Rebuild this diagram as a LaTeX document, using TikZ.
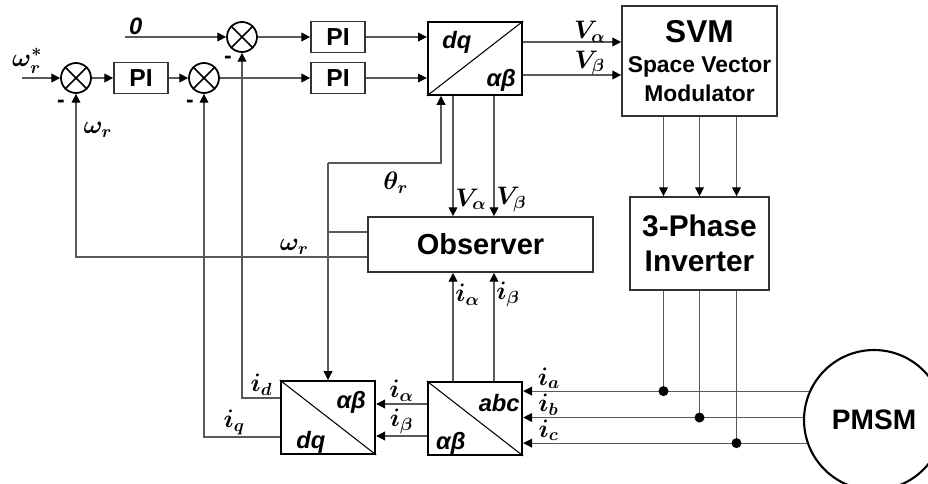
\documentclass[tikz,border=0pt]{standalone}
\usepackage{fontspec,amsmath}
\setmainfont{Liberation Sans}
\usetikzlibrary{arrows.meta,calc,positioning}

\begin{document}
\begin{tikzpicture}[x=.02cm,y=-.02cm,>={Triangle[length=5pt,width=5pt,color=black]},
 blk/.style={draw=black!80,line width=1pt,inner sep=0pt,font=\bfseries},
 pibox/.style={blk,minimum width=1.08cm,minimum height=.62cm,font=\bfseries\fontsize{14}{16}\selectfont},
 conv/.style={draw,line width=1.4pt,minimum width=1.88cm,minimum height=1.45cm,inner sep=0pt},
 sumnode/.style={draw,circle,line width=1pt,minimum size=.6cm,inner sep=0pt},
 sig/.style={font=\boldmath\fontsize{14.5}{16}\selectfont,inner sep=1pt},
 cvt/.style={font=\bfseries\itshape\fontsize{13.5}{15}\selectfont,inner sep=0pt},
 sgn/.style={font=\bfseries\fontsize{13}{15}\selectfont,inner sep=0pt},
 wire/.style={draw=black!65,line width=.6pt},
 dot/.style={circle,fill,inner sep=0pt,minimum size=.2cm}]
\useasboundingbox (0,0) rectangle (928,483);

% speed and current loops
\coordinate (wref) at (22,78);
\coordinate (zref) at (125,37);
\node[sumnode] (sw) at (76,78) {};
\node[pibox] (piw) at (141,78) {PI};
\node[sumnode] (sq) at (204,78) {};
\node[sumnode] (sd) at (242,37) {};
\node[pibox] (pid) at (338,37) {PI};
\node[pibox] (piq) at (338,78) {PI};
\foreach \s in {sw,sq,sd}{
 \draw[line width=1pt] (\s.north west)--(\s.south east) (\s.north east)--(\s.south west);
}
\node[sgn] (mw) at (61,104) {-};
\node[sgn] (mq) at (190,104) {-};
\node[sgn] (md) at (228,60) {-};

% blocks
\node[conv] (ipark) at (475,58.5) {};
\node[blk,minimum width=3.1cm,minimum height=2.2cm,align=center] (svm) at (699.5,61)
 {{\fontsize{18}{20}\selectfont SVM}\\[5pt]{\fontsize{13}{15}\selectfont Space Vector}\\[3pt]{\fontsize{13}{15}\selectfont Modulator}};
\node[blk,minimum width=2.78cm,minimum height=1.86cm,align=center,font=\bfseries\fontsize{17}{20}\selectfont] (inv) at (699.5,243.5) {3-Phase\\Inverter};
\node[blk,minimum width=4.5cm,minimum height=1.1cm,font=\bfseries\fontsize{16.5}{19}\selectfont] (obs) at (480.5,244.5) {Observer};
\node[conv] (park) at (328,417.5) {};
\node[conv] (clarke) at (475,418.5) {};
\node[draw,circle,line width=1.2pt,minimum size=2.8cm,font=\bfseries\fontsize{16}{18}\selectfont] (pmsm) at (874,420) {PMSM};

% box contents
\draw[line width=.6pt] (ipark.south west)--(ipark.north east);
\foreach \b in {park,clarke}{\draw[line width=.6pt] (\b.north west)--(\b.south east);}
\node[cvt] (t1) at ($(ipark.north west)+(30,21)$) {dq};
\node[cvt] (t2) at ($(ipark.south east)+(-22,-16)$) {αβ};
\node[cvt] (t3) at ($(park.north east)+(-25,22)$) {αβ};
\node[cvt] (t4) at ($(park.south west)+(31,-13)$) {dq};
\node[cvt] (t5) at ($(clarke.north east)+(-24,22)$) {abc};
\node[cvt] (t6) at ($(clarke.south west)+(24,-13)$) {αβ};

% forward path
\draw[wire,->] (wref) node[sig,above=1pt,xshift=3pt] {$\omega_r^*$} -- (sw);
\draw[wire,->] (sw) -- (piw);
\draw[wire,->] (piw) -- (sq);
\draw[wire,->] (sq) -- (piq);
\draw[wire,->] (zref) node[cvt,above right=1pt and 2pt] {0} -- (sd);
\draw[wire,->] (sd) -- (pid);
\draw[wire,->] (pid) -- (pid -| ipark.west);
\draw[wire,->] (piq) -- (piq -| ipark.west);
\coordinate (rowa) at (0,42);
\coordinate (rowb) at (0,75);
\draw[wire,->] (ipark.east |- rowa) -- (svm.west |- rowa) node[sig,pos=.68,above=-1.5pt] {$V_\alpha$};
\draw[wire,->] (ipark.east |- rowb) -- (svm.west |- rowb) node[sig,pos=.68,above=-1.5pt] {$V_\beta$};

% observer signals
\coordinate (xva) at (453,0);
\coordinate (xvb) at (494,0);
\draw[wire,->] (ipark.south -| xva) -- (obs.north -| xva) node[sig,pos=.86,right] {$V_\alpha$};
\draw[wire,->] (ipark.south -| xvb) -- (obs.north -| xvb) node[sig,pos=.86,right] {$V_\beta$};
\draw[wire,->] (clarke.north -| xva) -- (obs.south -| xva) node[sig,pos=.8,right] {$i_\alpha$};
\draw[wire,->] (clarke.north -| xvb) -- (obs.south -| xvb) node[sig,pos=.8,right] {$i_\beta$};

% rotor angle
\coordinate (thj) at (328,163);
\coordinate (thx) at (441,0);
\coordinate (tho) at ([yshift=.25cm]obs.west);
\draw[wire] (tho) -- (tho -| thj);
\draw[wire,->] (thj) -| (ipark.south -| thx) node[sig,pos=.3,below=4pt] {$\theta_r$};
\draw[wire,->] (thj) -- (park.north);

% speed feedback
\draw[wire,->] ([yshift=-.25cm]obs.west) -| (sw.south)
 node[sig,pos=.125,above] {$\omega_r$} node[sig,pos=.89,right=3pt] {$\omega_r$};

% current feedback
\draw[wire,->] ([yshift=.39cm]park.west) -| (sd.south) node[sig,pos=.24,above] {$i_d$};
\draw[wire,->] ([yshift=-.39cm]park.west) -| (sq.south) node[sig,pos=.3,above] {$i_q$};
\coordinate (ial) at ([yshift=.29cm]clarke.west);
\coordinate (ibe) at ([yshift=-.35cm]clarke.west);
\draw[wire,->] (ial) -- (ial -| park.east) node[sig,pos=.5,above] {$i_\alpha$};
\draw[wire,->] (ibe) -- (ibe -| park.east) node[sig,pos=.5,above] {$i_\beta$};

% phases
\foreach \dx/\ang/\lab in {-36/156/a,0/178/b,37/199/c}{
 \draw[wire,->] (pmsm.\ang) -- (pmsm.\ang -| clarke.east) node[sig,pos=.91,above] {$i_\lab$};
 \path ($(inv.south)+(\dx,0)$) coordinate (ph);
 \draw[wire] (ph) -- (ph |- pmsm.\ang) node[dot] {};
 \draw[wire,->] ($(svm.south)+(\dx,0)$) -- ($(inv.north)+(\dx,0)$);
}
\end{tikzpicture}
\end{document}
